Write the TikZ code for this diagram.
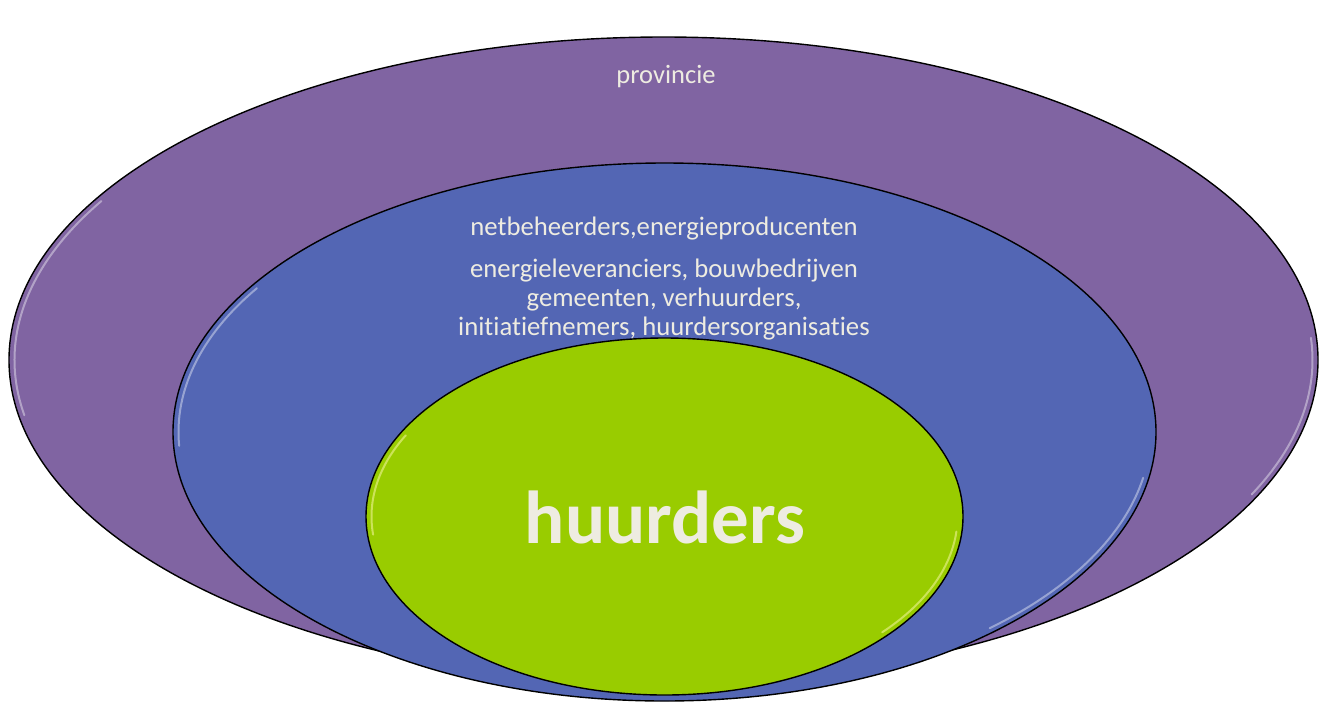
\documentclass[tikz,border=0pt]{standalone}
\usepackage{fontspec}
\setmainfont{Carlito}[Ligatures=NoCommon]
\usetikzlibrary{shapes.geometric,calc}
\definecolor{provpurple}{HTML}{8064A2}
\definecolor{midblue}{HTML}{5366B4}
\definecolor{coregreen}{HTML}{99CC00}
\definecolor{txtlight}{HTML}{EEECE1}
\tikzset{
  x=1pt, y=-1pt,
  ring/.style={ellipse, draw=black, line width=1.4pt, inner sep=0pt},
  shine/.style={white, opacity=0.4, line width=2pt, line cap=round},
  lbl/.style={text=txtlight, align=center, inner sep=0pt}
}
\begin{document}
\begin{tikzpicture}
\useasboundingbox (0,0) rectangle (1325,702);
% outer
\node[ring, fill=provpurple, minimum width=1309pt, minimum height=646pt] (prov) at (663.5,360) {};
\draw[shine] ($(prov.center)+(150:649pt and 318pt)$) arc[start angle=150, end angle=190, x radius=649pt, y radius=318pt];
\draw[shine] ($(prov.center)+(-25:649pt and 318pt)$) arc[start angle=-25, end angle=4, x radius=649pt, y radius=318pt];
% middle
\node[ring, fill=midblue, minimum width=983pt, minimum height=538pt] (mid) at (664.5,432) {};
\draw[shine] ($(mid.center)+(147:486pt and 264pt)$) arc[start angle=147, end angle=183, x radius=486pt, y radius=264pt];
\draw[shine] ($(mid.center)+(-48:486pt and 264pt)$) arc[start angle=-48, end angle=-10, x radius=486pt, y radius=264pt];
% core
\node[ring, fill=coregreen, minimum width=597pt, minimum height=357pt] (core) at (664.5,516.5) {};
\draw[shine, white!70!yellow, opacity=0.5] ($(core.center)+(152:293pt and 173pt)$) arc[start angle=152, end angle=186, x radius=293pt, y radius=173pt];
\draw[shine, white!70!yellow, opacity=0.5] ($(core.center)+(-42:293pt and 173pt)$) arc[start angle=-42, end angle=-5, x radius=293pt, y radius=173pt];
% texts
\node[lbl, font=\fontsize{26.5}{29}\selectfont] (tprov) at (666,77) {provincie};
\node[lbl, font=\fontsize{26.7}{29}\selectfont] (tnet) at (664,229) {netbeheerders,energieproducenten};
\node[lbl, font=\fontsize{26.7}{29}\selectfont] (tact) at (664,300) {energieleveranciers, bouwbedrijven\\gemeenten, verhuurders,\\initiatiefnemers, huurdersorganisaties};
\node[lbl, font=\fontsize{75}{90}\selectfont\bfseries] (thuur) at (665,517) {huurders};
\end{tikzpicture}
\end{document}
